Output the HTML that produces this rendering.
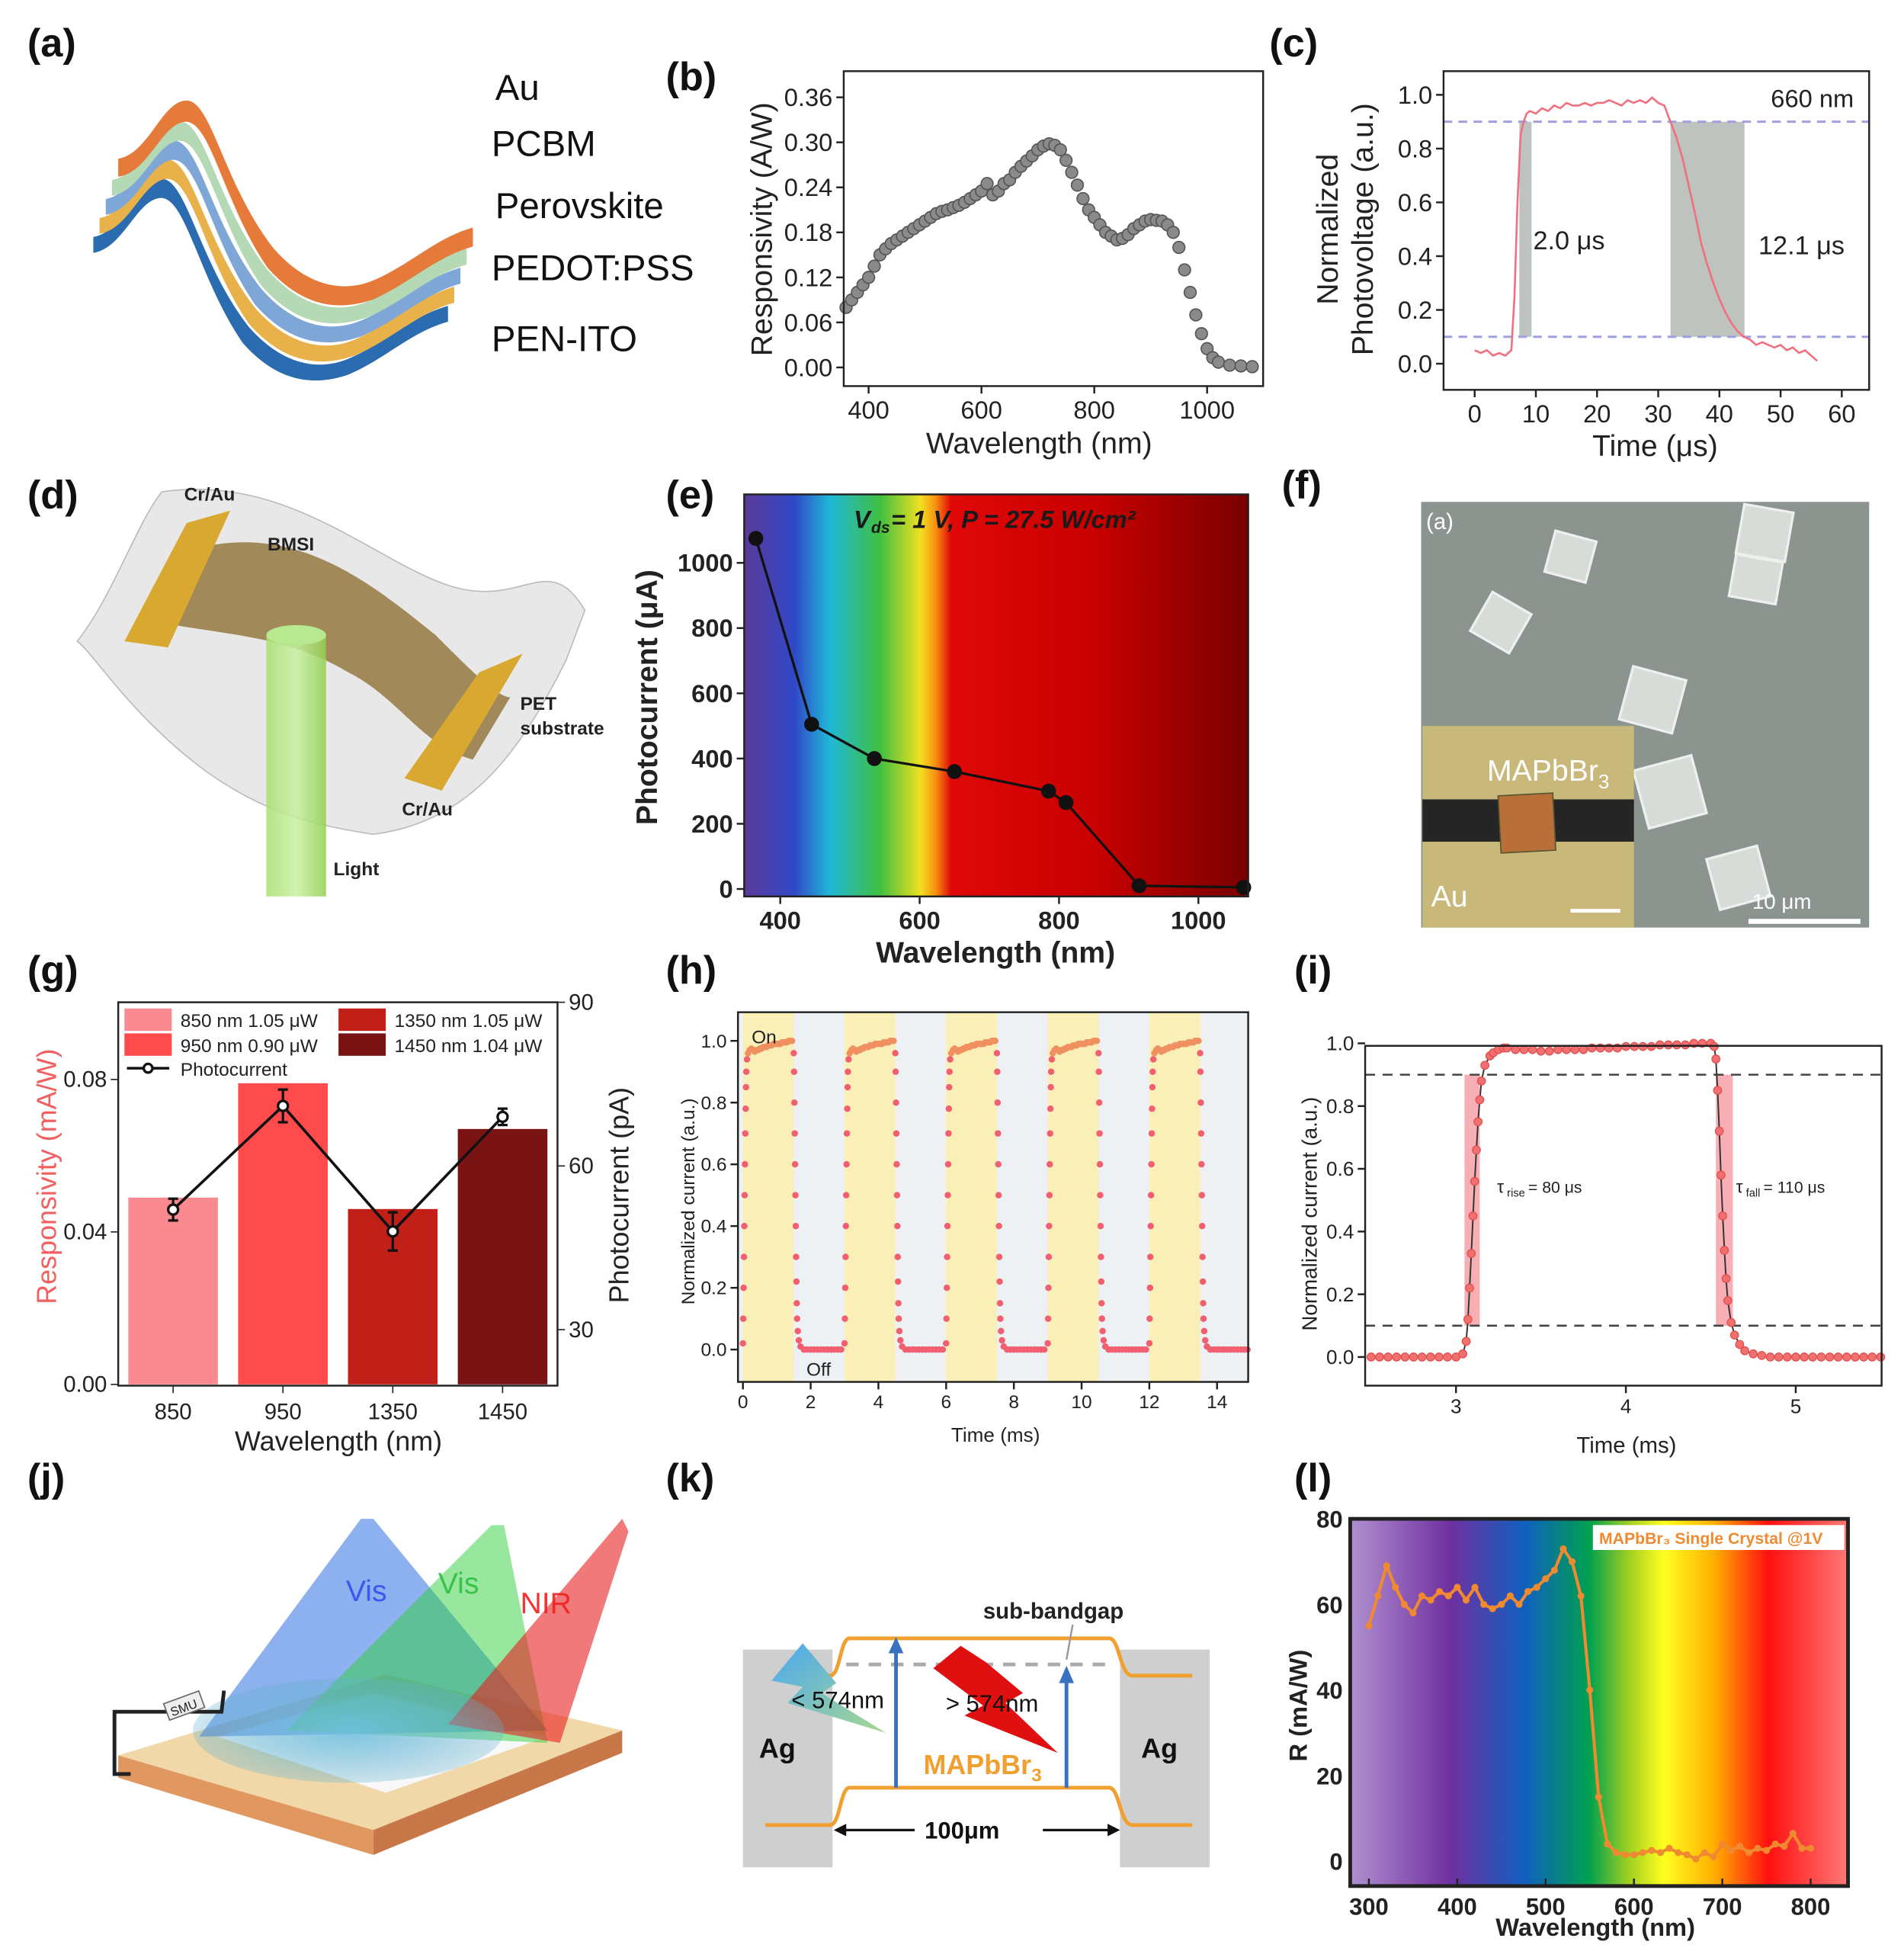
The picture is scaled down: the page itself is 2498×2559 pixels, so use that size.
<!DOCTYPE html>
<html><head><meta charset="utf-8">
<style>
html,body{margin:0;padding:0;background:#fff;}
svg{display:block;}
text{font-family:"Liberation Sans",sans-serif;}
</style></head>
<body>
<svg id="fig" xmlns="http://www.w3.org/2000/svg" width="2498" height="2559" viewBox="0 0 1530 1567">
<defs>
<linearGradient id="gE" x1="0" x2="1" y1="0" y2="0">
<stop offset="0" stop-color="#5b3a98"/><stop offset="0.1" stop-color="#3048c8"/><stop offset="0.17" stop-color="#20b8d8"/><stop offset="0.27" stop-color="#40c040"/><stop offset="0.35" stop-color="#f0e020"/><stop offset="0.38" stop-color="#f89010"/><stop offset="0.41" stop-color="#e00808"/><stop offset="0.7" stop-color="#c80000"/><stop offset="1" stop-color="#780000"/>
</linearGradient>
<linearGradient id="gL" x1="0" x2="1" y1="0" y2="0">
<stop offset="0" stop-color="#b090d0"/><stop offset="0.2" stop-color="#7030a0"/><stop offset="0.35" stop-color="#1060c0"/><stop offset="0.48" stop-color="#00a050"/><stop offset="0.56" stop-color="#a0d020"/><stop offset="0.63" stop-color="#ffff20"/><stop offset="0.73" stop-color="#ffb000"/><stop offset="0.84" stop-color="#ff1010"/><stop offset="1" stop-color="#ff7878"/>
</linearGradient>
<linearGradient id="gCyl" x1="0" x2="1"><stop offset="0" stop-color="#a8e070"/><stop offset="0.5" stop-color="#c8f0a0"/><stop offset="1" stop-color="#90d050"/></linearGradient>
<radialGradient id="gSpot"><stop offset="0" stop-color="#70c0e0" stop-opacity="0.9"/><stop offset="1" stop-color="#60b0d0" stop-opacity="0.3"/></radialGradient>
<linearGradient id="gBlueFlash" x1="0" y1="0" x2="1" y2="1"><stop offset="0" stop-color="#4aa8f0"/><stop offset="1" stop-color="#a8d890"/></linearGradient>
</defs>

<g font-size="32" font-weight="bold" fill="#111">
<text x="22" y="45">(a)</text><text x="535" y="72">(b)</text><text x="1020" y="45">(c)</text>
<text x="22" y="408">(d)</text><text x="535" y="408">(e)</text><text x="1030" y="400">(f)</text>
<text x="22" y="790">(g)</text><text x="535" y="790">(h)</text><text x="1040" y="790">(i)</text>
<text x="22" y="1198">(j)</text><text x="535" y="1198">(k)</text><text x="1040" y="1198">(l)</text>
</g>

<g transform="translate(0,50) scale(1,0.85)">
<g transform="translate(0,70)"><path d="M75,95 C100,90 110,40 130,40 C150,40 160,120 200,180 C230,220 260,220 280,210 C310,195 330,170 360,160 L360,175 C330,185 310,210 280,225 C255,235 225,235 195,195 C160,135 150,60 130,58 C110,58 100,105 75,110 Z" fill="#2b6cb0"/></g>
<g transform="translate(5,52)"><path d="M75,95 C100,90 110,40 130,40 C150,40 160,120 200,180 C230,220 260,220 280,210 C310,195 330,170 360,160 L360,175 C330,185 310,210 280,225 C255,235 225,235 195,195 C160,135 150,60 130,58 C110,58 100,105 75,110 Z" fill="#e8b14a"/></g>
<g transform="translate(10,34)"><path d="M75,95 C100,90 110,40 130,40 C150,40 160,120 200,180 C230,220 260,220 280,210 C310,195 330,170 360,160 L360,175 C330,185 310,210 280,225 C255,235 225,235 195,195 C160,135 150,60 130,58 C110,58 100,105 75,110 Z" fill="#7ea6d6"/></g>
<g transform="translate(15,16)"><path d="M75,95 C100,90 110,40 130,40 C150,40 160,120 200,180 C230,220 260,220 280,210 C310,195 330,170 360,160 L360,175 C330,185 310,210 280,225 C255,235 225,235 195,195 C160,135 150,60 130,58 C110,58 100,105 75,110 Z" fill="#b5d9b4"/></g>
<g transform="translate(20,-4)"><path d="M75,95 C100,90 110,40 130,40 C150,40 160,120 200,180 C230,220 260,220 280,210 C310,195 330,170 360,160 L360,178 C330,188 310,212 280,228 C255,238 225,238 195,198 C160,138 150,62 130,60 C110,60 100,108 75,112 Z" fill="#e57a3a"/></g>
</g>
<g font-size="29" fill="#111">
<text x="398" y="80">Au</text><text x="395" y="125">PCBM</text><text x="398" y="175">Perovskite</text><text x="395" y="225">PEDOT:PSS</text><text x="395" y="282">PEN-ITO</text>
</g>

<g>
<path d="M130,395 C230,380 300,450 360,470 C420,490 440,440 470,490 L455,530 C420,600 380,660 300,670 C230,660 180,640 120,580 C90,550 70,520 62,515 C90,480 110,420 130,395 Z" fill="#e8e8e8" stroke="#bbb"/>
<path d="M160,440 C240,420 300,470 350,510 C380,540 400,560 410,560 L380,610 C340,600 320,560 280,540 C230,510 180,510 130,500 Z" fill="#8a6a2a" opacity="0.75"/>
<path d="M100,515 L150,420 L185,410 L135,520 Z" fill="#d8a830"/>
<path d="M325,625 L385,540 L420,525 L355,635 Z" fill="#d8a830"/>
<rect x="214" y="510" width="48" height="210" fill="url(#gCyl)" opacity="0.85"/>
<ellipse cx="238" cy="510" rx="24" ry="8" fill="#b8e890"/>
<g font-family="Liberation Serif" font-weight="bold" font-size="15" fill="#222">
<text x="148" y="402">Cr/Au</text><text x="215" y="442">BMSI</text><text x="418" y="570">PET</text><text x="418" y="590">substrate</text><text x="323" y="655">Cr/Au</text><text x="268" y="703">Light</text>
</g>
</g>

<g>
<rect x="1142" y="403" width="360" height="342" fill="#8c9490"/>
<g fill="#d8dcd8" stroke="#eef0ee" stroke-width="2">
<rect x="1245" y="430" width="34" height="34" transform="rotate(15 1262 447)"/>
<rect x="1398" y="408" width="40" height="40" transform="rotate(10 1418 428)"/>
<rect x="1392" y="448" width="38" height="34" transform="rotate(10 1410 465)"/>
<rect x="1188" y="482" width="36" height="36" transform="rotate(30 1206 500)"/>
<rect x="1306" y="540" width="44" height="44" transform="rotate(15 1328 562)"/>
<rect x="1318" y="612" width="48" height="48" transform="rotate(-15 1342 636)"/>
<rect x="1376" y="684" width="42" height="42" transform="rotate(-15 1397 705)"/>
</g>
<text x="1146" y="425" font-size="18" fill="#fff">(a)</text>
<rect x="1143" y="583" width="170" height="162" fill="#c8b87a"/>
<rect x="1143" y="642" width="170" height="34" fill="#252525"/>
<rect x="1205" y="638" width="44" height="46" fill="#b87038" stroke="#553" transform="rotate(-3 1227 661)"/>
<text x="1195" y="627" font-size="24" fill="#fff">MAPbBr<tspan font-size="16" dy="6">3</tspan></text>
<text x="1150" y="728" font-size="24" fill="#fff">Au</text>
<rect x="1262" y="730" width="40" height="3" fill="#fff"/>
<rect x="1405" y="738" width="90" height="4" fill="#fff"/>
<text x="1408" y="730" font-size="17" fill="#fff">10 μm</text>
</g>

<g>
<polygon points="95,1410 310,1345 500,1390 300,1470" fill="#f0d8a8"/>
<polygon points="95,1410 300,1470 300,1490 95,1428" fill="#e09860"/>
<polygon points="300,1470 500,1390 500,1408 300,1490" fill="#c87848"/>
<polygon points="175,1395 300,1360 440,1395 310,1440" fill="#f8f8f8"/>
<polygon points="290,1220 300,1220 440,1390 160,1395" fill="#3070e0" opacity="0.55"/>
<polygon points="395,1225 405,1225 440,1400 230,1390" fill="#30d040" opacity="0.5"/>
<polygon points="500,1220 505,1230 450,1400 360,1385" fill="#e82020" opacity="0.6"/>
<ellipse cx="280" cy="1390" rx="125" ry="42" fill="url(#gSpot)"/>
<polyline points="105,1425 92,1425 92,1375 178,1375 180,1358" fill="none" stroke="#222" stroke-width="3"/>
<rect x="133" y="1363" width="30" height="14" fill="#eee" stroke="#666" transform="rotate(-20 148 1370)"/>
<text x="136" y="1375" font-size="10" fill="#222" transform="rotate(-20 148 1370)">SMU</text>
<g font-size="24" fill="#fff" opacity="0.9"><text x="278" y="1286" fill="#3050f0">Vis</text><text x="352" y="1280" fill="#30c040">Vis</text><text x="418" y="1296" fill="#f02020">NIR</text></g>
</g>

<g>
<rect x="597" y="1325" width="72" height="175" fill="#cfcfcf"/>
<rect x="900" y="1325" width="72" height="175" fill="#cfcfcf"/>
<path d="M630,1346 L667,1346 C675,1346 675,1318 682,1316 L892,1316 C900,1318 900,1346 910,1346 L958,1346" fill="none" stroke="#f0a030" stroke-width="3"/>
<path d="M615,1466 L667,1466 C675,1466 675,1438 682,1436 L892,1436 C900,1438 900,1466 910,1466 L958,1466" fill="none" stroke="#f0a030" stroke-width="3"/>
<line x1="680" y1="1337" x2="895" y2="1337" stroke="#aaa" stroke-width="3" stroke-dasharray="10,8"/>
<polygon points="645,1320 620,1350 645,1355 633,1368 712,1392 660,1360 672,1352" fill="url(#gBlueFlash)"/>
<polygon points="772,1322 750,1340 790,1370 775,1378 850,1408 808,1368 822,1360 792,1335" fill="#e01010"/>
<line x1="720" y1="1436" x2="720" y2="1325" stroke="#3a70c0" stroke-width="3"/>
<polygon points="714,1328 726,1328 720,1315" fill="#3a70c0"/>
<line x1="857" y1="1436" x2="857" y2="1350" stroke="#3a70c0" stroke-width="3"/>
<polygon points="851,1352 863,1352 857,1338" fill="#3a70c0"/>
<line x1="862" y1="1305" x2="857" y2="1333" stroke="#999" stroke-width="1.5"/>
<text x="790" y="1300" font-size="18" font-weight="bold" fill="#222">sub-bandgap</text>
<text x="636" y="1372" font-size="19" fill="#111">&lt; 574nm</text>
<text x="760" y="1375" font-size="19" fill="#111">&gt; 574nm</text>
<text x="610" y="1412" font-size="22" font-weight="bold" fill="#111">Ag</text>
<text x="917" y="1412" font-size="22" font-weight="bold" fill="#111">Ag</text>
<text x="742" y="1425" font-size="22" font-weight="bold" fill="#f0a030">MAPbBr<tspan font-size="15" dy="6">3</tspan></text>
<line x1="672" y1="1470" x2="735" y2="1470" stroke="#111" stroke-width="2"/><polygon points="670,1470 680,1465 680,1475" fill="#111"/>
<line x1="838" y1="1470" x2="898" y2="1470" stroke="#111" stroke-width="2"/><polygon points="900,1470 890,1465 890,1475" fill="#111"/>
<text x="743" y="1477" font-size="19" font-weight="bold" fill="#111">100μm</text>
</g>

<g id="charts"></g>
</svg>

<script>
const bWl = [360,370,380,390,400,410,420,430,440,450,460,470,480,490,500,510,520,530,540,550,560,570,580,590,600,610,620,630,640,650,660,670,680,690,700,710,720,730,740,750,760,770,780,790,800,810,820,830,840,850,860,870,880,890,900,910,920,930,940,950,960,970,980,990,1000,1010,1020,1040,1060,1080];
const bResp = [0.08,0.09,0.10,0.11,0.12,0.135,0.15,0.158,0.165,0.17,0.175,0.18,0.185,0.19,0.195,0.2,0.205,0.208,0.21,0.213,0.216,0.22,0.225,0.23,0.235,0.245,0.23,0.235,0.245,0.25,0.26,0.268,0.275,0.282,0.29,0.295,0.298,0.296,0.29,0.276,0.26,0.243,0.225,0.21,0.2,0.19,0.18,0.175,0.17,0.172,0.177,0.185,0.19,0.195,0.197,0.196,0.195,0.19,0.18,0.16,0.13,0.1,0.07,0.045,0.025,0.013,0.007,0.003,0.002,0.001];
const bXTicks = [400,600,800,1000];
const bYTicks = [0,0.06,0.12,0.18,0.24,0.30,0.36];
const cT = [0,1,2,3,4,5,6,6.5,7,7.5,8,8.5,9,10,11,12,13,14,15,16,17,18,19,20,21,22,23,24,25,26,27,28,29,30,31,32,33,34,35,36,37,38,39,40,41,42,43,44,45,46,47,48,49,50,51,52,53,54,55,56];
const cV = [0.05,0.04,0.05,0.03,0.04,0.03,0.05,0.25,0.6,0.85,0.9,0.93,0.94,0.93,0.95,0.94,0.96,0.95,0.97,0.96,0.96,0.97,0.96,0.97,0.97,0.98,0.97,0.96,0.98,0.97,0.98,0.97,0.99,0.97,0.96,0.9,0.84,0.76,0.66,0.56,0.45,0.37,0.3,0.24,0.19,0.15,0.12,0.1,0.09,0.07,0.08,0.07,0.06,0.07,0.05,0.06,0.04,0.05,0.03,0.01];
const cXTicks = [0,10,20,30,40,50,60];
const cYTicks = [0,0.2,0.4,0.6,0.8,1.0];
const cRiseBand = [7.3,9.3];
const cFallBand = [32,44.1];
const eWl = [365,445,535,650,785,810,915,1065];
const eI = [1075,505,400,360,300,265,10,5];
const eXTicks = [400,600,800,1000];
const eYTicks = [0,200,400,600,800,1000];
const gCats = ['850','950','1350','1450'];
const gResp = [0.049,0.079,0.046,0.067];
const gPc = [52,71,48,69];
const gPcErr = [2,3,3.5,1.5];
const gColors = ['#fa8a8f','#ff4b4b','#c02018','#7a1414'];
const gLegend = ['850 nm 1.05 μW','950 nm 0.90 μW','1350 nm 1.05 μW','1450 nm 1.04 μW'];
const gYTicks = [0,0.04,0.08];
const gY2Ticks = [30,60,90];
const hStarts = [0,3,6,9,12];
const hOnDur = 1.5;
const hProfT = [0,0.01,0.02,0.03,0.04,0.05,0.06,0.07,0.08,0.09,0.1,0.12,0.15,0.2,0.25,0.3,0.35,0.4,0.45,0.5,0.55,0.6,0.65,0.7,0.75,0.8,0.85,0.9,0.95,1.0,1.05,1.1,1.15,1.2,1.25,1.3,1.35,1.4,1.45,1.5,1.51,1.52,1.53,1.54,1.55,1.56,1.57,1.58,1.59,1.6,1.62,1.65,1.7,1.8,1.9,2.0,2.1,2.2,2.3,2.4,2.5,2.6,2.7,2.8,2.9];
const hProfV = [0.02,0.1,0.2,0.3,0.4,0.5,0.6,0.7,0.78,0.85,0.9,0.94,0.96,0.97,0.975,0.97,0.965,0.97,0.97,0.975,0.975,0.98,0.98,0.98,0.985,0.985,0.985,0.99,0.99,0.99,0.99,0.99,0.995,0.995,0.995,0.995,1.0,1.0,1.0,0.96,0.9,0.8,0.7,0.6,0.5,0.4,0.3,0.22,0.15,0.1,0.06,0.03,0.01,0,0,0,0,0,0,0,0,0,0,0,0];
const hXTicks = [0,2,4,6,8,10,12,14];
const hYTicks = [0,0.2,0.4,0.6,0.8,1.0];
const iT = [2.5,2.55,2.6,2.65,2.7,2.75,2.8,2.85,2.9,2.95,3.0,3.04,3.06,3.07,3.08,3.09,3.1,3.11,3.12,3.13,3.14,3.15,3.17,3.2,3.22,3.25,3.28,3.3,3.35,3.4,3.45,3.5,3.55,3.6,3.65,3.7,3.75,3.8,3.85,3.9,3.95,4.0,4.05,4.1,4.15,4.2,4.25,4.3,4.35,4.4,4.45,4.5,4.52,4.53,4.54,4.55,4.56,4.57,4.58,4.59,4.6,4.62,4.64,4.67,4.7,4.75,4.8,4.85,4.9,4.95,5.0,5.05,5.1,5.15,5.2,5.25,5.3,5.35,5.4,5.45,5.5];
const iV = [0,0,0,0,0,0,0,0,0,0,0,0.01,0.05,0.12,0.22,0.33,0.45,0.56,0.66,0.75,0.82,0.88,0.93,0.96,0.97,0.98,0.985,0.985,0.98,0.98,0.98,0.975,0.975,0.98,0.98,0.98,0.98,0.985,0.985,0.985,0.985,0.99,0.99,0.99,0.99,0.995,0.995,0.995,0.995,1.0,1.0,1.0,0.99,0.95,0.85,0.72,0.58,0.45,0.34,0.25,0.18,0.11,0.07,0.04,0.02,0.01,0.005,0,0,0,0,0,0,0,0,0,0,0,0,0,0];
const iXTicks = [3,4,5];
const iYTicks = [0,0.2,0.4,0.6,0.8,1.0];
const iRiseBand = [3.05,3.14];
const iFallBand = [4.53,4.63];
const lWl = [300,310,320,330,340,350,360,370,380,390,400,410,420,430,440,450,460,470,480,490,500,510,520,530,540,550,560,570,580,590,600,610,620,630,640,650,660,670,680,690,700,710,720,730,740,750,760,770,780,790,800];
const lR = [55,62,69,64,60,58,62,61,63,62,64,61,64,60,59,60,62,60,63,64,66,68,73,70,62,40,15,4,2,1.5,1.5,2,2.5,2,3,2,1.5,0.5,2,1,4,2.5,3.5,2,3,2.5,4,3.5,6.5,3,3];
const lXTicks = [300,400,500,600,700,800];
const lYTicks = [0,20,40,60,80];

const NS = 'http://www.w3.org/2000/svg';
const root = document.getElementById('charts');
function mk(tag, attrs, parent){
  const el = document.createElementNS(NS, tag);
  for (const k in attrs) el.setAttribute(k, attrs[k]);
  (parent || root).appendChild(el);
  return el;
}
function txt(s, x, y, size, parent, extra){
  const t = mk('text', Object.assign({x:x, y:y, 'font-size':size, fill:'#222'}, extra||{}), parent);
  t.textContent = s;
  return t;
}
function lin(d0,d1,p0,p1){ return v => p0 + (v-d0)*(p1-p0)/(d1-d0); }
function fmt(v,dec){ return v.toFixed(dec); }

function axes(g, box, sx, sy, xt, yt, xdec, ydec, fs, opts){
  opts = opts || {};
  mk('rect',{x:box.x0,y:box.y0,width:box.x1-box.x0,height:box.y1-box.y0,fill:'none',stroke:'#222','stroke-width':opts.sw||1.5}, g);
  xt.forEach(v=>{
    const x = sx(v);
    mk('line',{x1:x,y1:box.y1,x2:x,y2:box.y1+6,stroke:'#222','stroke-width':1.5},g);
    const t = txt(fmt(v,xdec), x, box.y1+6+fs, fs, g, {'text-anchor':'middle','font-weight':opts.bold?'bold':'normal'});
    
    
  });
  yt.forEach(v=>{
    const y = sy(v);
    mk('line',{x1:box.x0-6,y1:y,x2:box.x0,y2:y,stroke:'#222','stroke-width':1.5},g);
    const t = txt(fmt(v,ydec), box.x0-9, y+fs*0.35, fs, g, {'text-anchor':'end','font-weight':opts.bold?'bold':'normal'});
    
    
  });
}
function ytitle(g, s, x, y, fs, extra){
  const t = txt(s, x, y, fs, g, Object.assign({'text-anchor':'middle', transform:'rotate(-90 '+x+' '+y+')'}, extra||{}));
  
  
  return t;
}
function xtitle(g, s, x, y, fs, extra){
  const t = txt(s, x, y, fs, g, Object.assign({'text-anchor':'middle'}, extra||{}));
  
  
  return t;
}
function pathD(xs, ys, sx, sy){ return xs.map((v,i)=>(i?'L':'M')+sx(v).toFixed(1)+','+sy(ys[i]).toFixed(1)).join(' '); }

{
  const g = mk('g',{});
  
  
  const box = {x0:678,y0:57,x1:1015,y1:310};
  const sx = lin(400,1000,698,970), sy = lin(0,0.36,295,78);
  bWl.forEach((w,i)=>{
    const c = mk('circle',{cx:sx(w),cy:sy(bResp[i]),r:4.8,fill:'#8a8a8a',stroke:'#555','stroke-width':1},g);
    
    
  });
  axes(g, box, sx, sy, bXTicks, bYTicks, 0, 2, 20);
  ytitle(g,'Responsivity (A/W)',620,184,24);
  xtitle(g,'Wavelength (nm)',835,364,24);
}
{
  const g = mk('g',{});
  
  
  const box = {x0:1160,y0:57,x1:1502,y1:313};
  const sx = lin(0,60,1185,1480), sy = lin(0,1,292,76);
  [cRiseBand,cFallBand].forEach(b=>{
    const r = mk('rect',{x:sx(b[0]),y:sy(0.9),width:sx(b[1])-sx(b[0]),height:sy(0.1)-sy(0.9),fill:'#b4b8b4',opacity:0.85},g);
    
    
  });
  [0.9,0.1].forEach(v=>{
    const l = mk('line',{x1:box.x0,x2:box.x1,y1:sy(v),y2:sy(v),stroke:'#a0a0e0','stroke-width':1.8,'stroke-dasharray':'7,5'},g);
    
    
  });
  const p = mk('path',{d:pathD(cT,cV,sx,sy),fill:'none',stroke:'#f07080','stroke-width':1.6},g);
  
  
  axes(g, box, sx, sy, cXTicks, cYTicks, 0, 1, 20);
  txt('660 nm',1423,86,20,g);
  txt('2.0 μs',1232,200,21,g);
  txt('12.1 μs',1413,204,21,g);
  ytitle(g,'Normalized',1075,184,24);
  ytitle(g,'Photovoltage (a.u.)',1103,184,24);
  xtitle(g,'Time (μs)',1330,366,24);
}
{
  const g = mk('g',{});
  
  
  const box = {x0:598,y0:397,x1:1003,y1:720};
  const sx = lin(400,1000,627,963), sy = lin(0,1000,714,452);
  const bg = mk('rect',{x:box.x0,y:box.y0,width:box.x1-box.x0,height:box.y1-box.y0,fill:'url(#gE)'},g);
  
  
  const p = mk('path',{d:pathD(eWl,eI,sx,sy),fill:'none',stroke:'#111','stroke-width':2},g);
  
  
  eWl.forEach((w,i)=>{
    const c = mk('circle',{cx:sx(w),cy:sy(eI[i]),r:6,fill:'#111'},g);
    
    
  });
  axes(g, box, sx, sy, eXTicks, eYTicks, 0, 0, 20, {bold:true});
  txt('V',686,424,20,g,{'font-weight':'bold','font-style':'italic',fill:'#1a1a1a'});
  txt('ds',700,428,13,g,{'font-weight':'bold','font-style':'italic',fill:'#1a1a1a'});
  txt(' = 1 V, P = 27.5 W/cm²',716,424,20,g,{'font-weight':'bold','font-style':'italic',fill:'#1a1a1a'});
  ytitle(g,'Photocurrent (μA)',528,560,24,{'font-weight':'bold'});
  xtitle(g,'Wavelength (nm)',800,773,24,{'font-weight':'bold'});
}
{
  const g = mk('g',{});
  
  
  const box = {x0:95,y0:805,x1:448,y1:1113};
  const sy = lin(0,0.08,1112,867), sy2 = lin(30,90,1068,805);
  const step = (box.x1-box.x0)/gCats.length;
  const sx = i => box.x0 + step*(i+0.5);
  gCats.forEach((c,i)=>{
    const b = mk('rect',{x:sx(i)-36,y:sy(gResp[i]),width:72,height:sy(0)-sy(gResp[i]),fill:gColors[i]},g);
    
    
  });
  const p = mk('path',{d:gCats.map((c,i)=>(i?'L':'M')+sx(i)+','+sy2(gPc[i])).join(' '),fill:'none',stroke:'#111','stroke-width':2.2},g);
  
  
  gCats.forEach((c,i)=>{
    const e = mk('path',{d:'M'+sx(i)+','+sy2(gPc[i]+gPcErr[i])+' V'+sy2(gPc[i]-gPcErr[i])+' M'+(sx(i)-4)+','+sy2(gPc[i]+gPcErr[i])+' h8 M'+(sx(i)-4)+','+sy2(gPc[i]-gPcErr[i])+' h8',stroke:'#111','stroke-width':2},g);
    
    
    const m = mk('circle',{cx:sx(i),cy:sy2(gPc[i]),r:4,fill:'#fff',stroke:'#111','stroke-width':2},g);
    
    
  });
  mk('rect',{x:box.x0,y:box.y0,width:box.x1-box.x0,height:box.y1-box.y0,fill:'none',stroke:'#222','stroke-width':1.5},g);
  gCats.forEach((c,i)=>{
    mk('line',{x1:sx(i),x2:sx(i),y1:box.y1,y2:box.y1+6,stroke:'#222'},g);
    const t = txt(c,sx(i),box.y1+27,18,g,{'text-anchor':'middle'});
    
    
  });
  gYTicks.forEach(v=>{
    mk('line',{x1:box.x0-6,x2:box.x0,y1:sy(v),y2:sy(v),stroke:'#222'},g);
    const t = txt(fmt(v,2),box.x0-9,sy(v)+6,18,g,{'text-anchor':'end'});
    
    
  });
  gY2Ticks.forEach(v=>{
    mk('line',{x1:box.x1,x2:box.x1+6,y1:sy2(v),y2:sy2(v),stroke:'#222'},g);
    const t = txt(String(v),box.x1+9,sy2(v)+6,18,g);
    
    
  });
  const lg = mk('g',{},g);
  
  
  gLegend.forEach((s,i)=>{
    const col = i%2===0 ? 0 : 1, row = i<2 ? 0 : 1;
    const lx = row===0 ? 100 : 272, ly = 810 + col*20;
    const sw = mk('rect',{x:lx,y:ly,width:38,height:18,fill:gColors[i]},lg);
    
    
    const t = txt(s,lx+45,ly+15,15,lg);
    
    
  });
  mk('line',{x1:102,x2:136,y1:858,y2:858,stroke:'#111','stroke-width':2.2},lg);
  mk('circle',{cx:119,cy:858,r:3.5,fill:'#fff',stroke:'#111','stroke-width':2},lg);
  const pt = txt('Photocurrent',145,864,15,lg);
  
  
  ytitle(g,'Responsivity (mA/W)',45,945,22,{fill:'#f06060'});
  ytitle(g,'Photocurrent (pA)',505,960,22);
  xtitle(g,'Wavelength (nm)',272,1165,22);
}
{
  const g = mk('g',{});
  
  
  const box = {x0:593,y0:813,x1:1003,y1:1110};
  const sx = lin(0,14,597,978), sy = lin(0,1,1084,836);
  mk('rect',{x:box.x0,y:box.y0,width:box.x1-box.x0,height:box.y1-box.y0,fill:'#eef1f3'},g);
  hStarts.forEach(s=>{
    const r = mk('rect',{x:sx(s),y:box.y0,width:sx(s+hOnDur)-sx(s),height:box.y1-box.y0,fill:'#fbefb8'},g);
    
    
  });
  hStarts.forEach(s=>{
    hProfT.forEach((t,i)=>{
      const v = hProfV[i];
      const c = mk('circle',{cx:sx(s+t),cy:sy(v),r:2.6,fill:(v>0.95&&t<1.5)?'#f09060':'#f06070'},g);
      
      
    });
  });
  axes(g, box, sx, sy, hXTicks, hYTicks, 0, 1, 15);
  txt('On',604,838,15,g);
  txt('Off',648,1105,15,g);
  ytitle(g,'Normalized current (a.u.)',558,965,15);
  xtitle(g,'Time (ms)',800,1158,16);
}
{
  const g = mk('g',{});
  
  
  const box = {x0:1097,y0:840,x1:1512,y1:1113};
  const sx = lin(3,5,1170,1443), sy = lin(0,1,1090,838);
  [iRiseBand,iFallBand].forEach(b=>{
    const r = mk('rect',{x:sx(b[0]),y:sy(0.9),width:sx(b[1])-sx(b[0]),height:sy(0.1)-sy(0.9),fill:'#f6a0a8',opacity:0.85},g);
    
    
  });
  [0.9,0.1].forEach(v=>{
    const l = mk('line',{x1:box.x0,x2:box.x1,y1:sy(v),y2:sy(v),stroke:'#444','stroke-width':1.6,'stroke-dasharray':'8,6'},g);
    
    
  });
  const p = mk('path',{d:pathD(iT,iV,sx,sy),fill:'none',stroke:'#333','stroke-width':1.2},g);
  
  
  iT.forEach((t,i)=>{
    const c = mk('circle',{cx:sx(t),cy:sy(iV[i]),r:3.2,fill:'#f07070',stroke:'#e05050','stroke-width':0.8},g);
    
    
  });
  axes(g, box, sx, sy, iXTicks, iYTicks, 0, 1, 16);
  txt('τ',1203,958,14,g); txt('rise',1211,961,9,g); txt(' = 80 μs',1228,958,13,g);
  txt('τ',1395,958,14,g); txt('fall',1403,961,9,g); txt(' = 110 μs',1417,958,13,g);
  ytitle(g,'Normalized current (a.u.)',1058,975,17);
  xtitle(g,'Time (ms)',1307,1167,18);
}
{
  const g = mk('g',{});
  
  
  const box = {x0:1085,y0:1220,x1:1485,y1:1515};
  const sx = lin(300,800,1100,1455), sy = lin(0,80,1495,1220);
  const bg = mk('rect',{x:box.x0,y:box.y0,width:box.x1-box.x0,height:box.y1-box.y0,fill:'url(#gL)'},g);
  
  
  const p = mk('path',{d:pathD(lWl,lR,sx,sy),fill:'none',stroke:'#f08a30','stroke-width':2.5},g);
  
  
  lWl.forEach((w,i)=>{
    const c = mk('circle',{cx:sx(w),cy:sy(lR[i]),r:2.8,fill:'#f08a30'},g);
    
    
  });
  const lb = mk('rect',{x:1280,y:1225,width:202,height:20,fill:'#fff'},g);
  
  
  txt('MAPbBr₃ Single Crystal @1V',1285,1240,13,g,{fill:'#f08a30','font-weight':'bold'});
  mk('rect',{x:box.x0,y:box.y0,width:box.x1-box.x0,height:box.y1-box.y0,fill:'none',stroke:'#222','stroke-width':3},g);
  lXTicks.forEach(v=>{
    mk('line',{x1:sx(v),x2:sx(v),y1:box.y1,y2:box.y1-6,stroke:'#222','stroke-width':1.5},g);
    const t = txt(String(v),sx(v),box.y1+23,19,g,{'text-anchor':'middle','font-weight':'bold'});
    
    
  });
  lYTicks.forEach(v=>{
    const t = txt(String(v),box.x0-6,sy(v)+7,19,g,{'text-anchor':'end','font-weight':'bold'});
    
    
  });
  ytitle(g,'R (mA/W)',1050,1370,20,{'font-weight':'bold'});
  xtitle(g,'Wavelength (nm)',1282,1555,20,{'font-weight':'bold'});
}
</script>
</body></html>
